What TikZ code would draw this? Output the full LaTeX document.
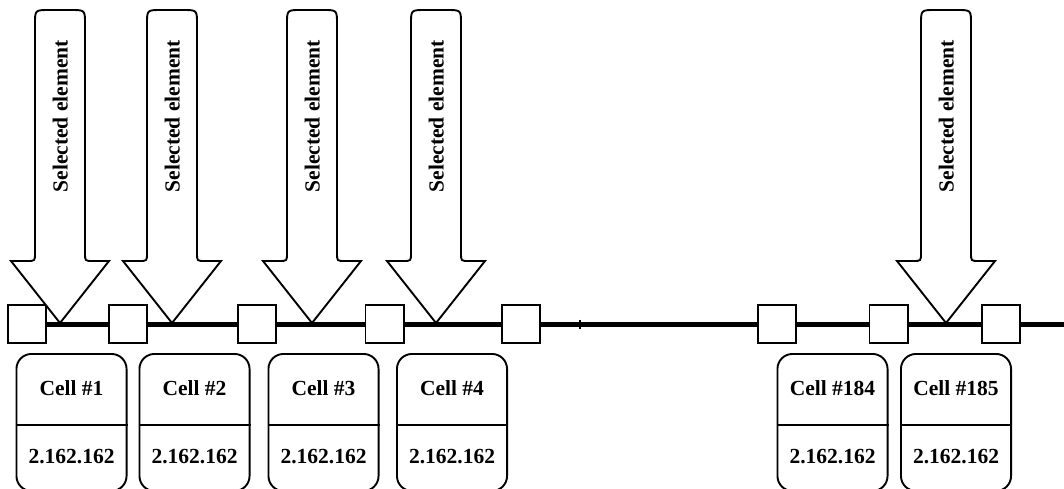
\documentclass[tikz,border=0pt]{standalone}
\usepackage{fontspec}
\setmainfont{Liberation Serif}
\newcommand\SelArrow[2]{%
  \begin{scope}[shift={(#1,0)}]
    \coordinate (#2tip) at (0,323);
    \draw[arr] (#2tip) -- (-49,261) -- (-33,261) .. controls (-25,261) .. (-25,253)
      -- (-25,24) .. controls (-25,10) .. (-11,10) -- (11,10) .. controls (25,10) .. (25,24)
      -- (25,253) .. controls (25,261) .. (33,261) -- (49,261) -- cycle;
    \node[lbl, rotate=90, anchor=base east] (#2) at (7.5,40) {Selected element};
  \end{scope}}
\begin{document}
\begin{tikzpicture}[x=1pt,y=-1pt,
  lbl/.style={font=\bfseries\fontsize{21.5}{25}\selectfont, inner sep=0pt},
  sq/.style={draw, line width=1.9pt, fill=white, minimum size=38.1pt, inner sep=0pt},
  cellbox/.style={draw, line width=1.9pt, fill=white, rounded corners=15pt,
    minimum width=110.1pt, minimum height=137pt, inner sep=0pt, anchor=north},
  track/.style={line width=5pt},
  arr/.style={draw, line width=1.9pt, fill=white, line join=miter}]
\useasboundingbox (0,0) rectangle (1064,488);
\clip (0,0) rectangle (1064,488);
% squares on the track
\node[sq] (s1) at (27,324) {};
\node[sq] (s2) at (128,324) {};
\node[sq] (s3) at (257,324) {};
\node[sq] (s4) at (384.5,324) {};
\node[sq] (s5) at (521,324) {};
\node[sq] (s6) at (777,324) {};
\node[sq] (s7) at (888.5,324) {};
\node[sq] (s8) at (1001,324) {};
\coordinate (trackend) at (1066,324);
\coordinate (tickA) at (580,319.5);
\coordinate (tickB) at (580,328.5);
% track
\draw[track] (s1.east) -- (s2.west);
\draw[track] (s2.east) -- (s3.west);
\draw[track] (s3.east) -- (s4.west);
\draw[track] (s4.east) -- (s5.west);
\draw[track] (s5.east) -- (s6.west);
\draw[track] (s6.east) -- (s7.west);
\draw[track] (s7.east) -- (s8.west);
\draw[track] (s8.east) -- (trackend);
\draw[line width=1.2pt] (tickA) -- (tickB);
% selection arrows
\SelArrow{60}{a1}
\SelArrow{172}{a2}
\SelArrow{312}{a3}
\SelArrow{436}{a4}
\SelArrow{946}{a5}
% cells
\foreach \x/\n/\lab in {71.5/1/1, 194.5/2/2, 323.5/3/3, 452/4/4, 832.5/5/184, 956/6/185}{
  \node[cellbox] (c\n) at (\x,353) {};
  \draw[line width=1.9pt] ([yshift=-2.5pt]c\n.west) -- ([yshift=-2.5pt]c\n.east);
  \node[lbl] (c\n t) at (\x,388) {Cell \#\lab};
  \node[lbl] (c\n v) at (\x,457) {2.162.162};
}
\end{tikzpicture}
\end{document}
